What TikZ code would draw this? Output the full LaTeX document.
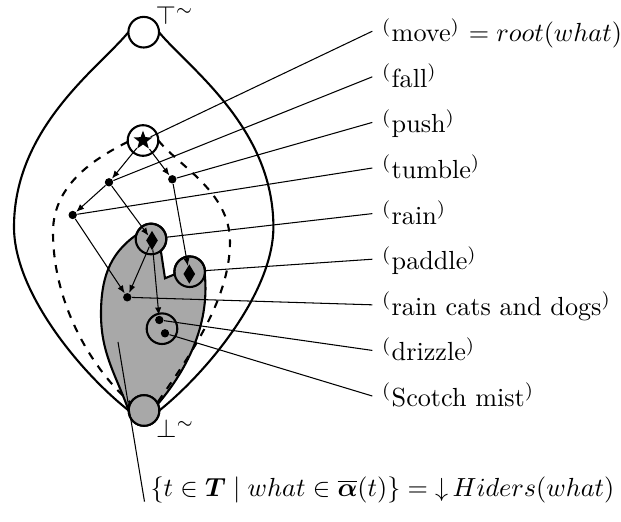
\documentclass[tikz,border=0pt]{standalone}
\usepackage{amssymb}
\usepackage{amsmath}
\usepackage{tikz}
\usetikzlibrary{arrows.meta,shapes.geometric,backgrounds}

\definecolor{blobgray}{gray}{0.66}
\newcommand{\pq}[1]{\textsuperscript{(}#1\textsuperscript{)}}

\tikzset{
  ring/.style={circle, draw, thick, minimum size=11.7pt, inner sep=0pt, outer sep=0pt},
  dot/.style={circle, fill, minimum size=3.2pt, inner sep=0pt},
  gem/.style={diamond, fill, minimum width=4.6pt, minimum height=7.5pt, inner sep=0pt},
  tag/.style={anchor=base west, text height=9.5pt, text depth=1.5pt, inner xsep=3.6pt},
  link/.style={-{Latex[length=3pt,width=2.4pt]}},
}

\begin{document}
\begin{tikzpicture}[x=0.382pt,y=0.382pt]
  \useasboundingbox (0,0) rectangle (621,522);

  \node[ring] (top) at (143.7,489.8) {};
  \node[ring, fill=blobgray] (bot) at (144,111.5) {};
  \node[ring] (moveC) at (143,381.5) {};
  \node[ring] (rainC) at (151,283) {};
  \node[ring] (paddleC) at (189.7,250.3) {};
  \node[ring] (drizzleC) at (162,193.3) {};

  \node[star, star points=5, star point ratio=2.4, fill, minimum size=7.5pt, inner sep=0pt] (move) at (143,381.5) {};
  \node[dot] (fall) at (109,339.7) {};
  \node[dot] (push) at (172.3,342.7) {};
  \node[dot] (tumble) at (72.7,307) {};
  \node[gem] (rain) at (152,281.5) {};
  \node[gem] (paddle) at (189.3,248) {};
  \node[dot] (cats) at (127.3,224.7) {};
  \node[dot] (drizzle) at (159.3,202) {};
  \node[dot] (mist) at (165,188.7) {};

  \node[anchor=base west, inner sep=0pt] (toplab) at (155,497) {$\top^{\sim}$};
  \node[anchor=base west, inner sep=0pt] (botlab) at (155.7,84) {$\bot^{\sim}$};

  % the hiders of what
  \begin{scope}[on background layer]
    \draw[thick, fill=blobgray] (bot.25) .. controls (185,150) and (210,195) .. (paddleC.-10)
      arc[start angle=-10, end angle=190, radius=5.85pt] -- (165,243.7) -- (rainC.-50)
      arc[start angle=-50, end angle=165, radius=5.85pt]
      to[out=215,in=90] (101,208) to[out=270,in=110] (bot.west) -- cycle;
  \end{scope}
  \node[ring, fill=blobgray] at (bot) {};

  \draw[thick] (top.west) .. controls (100,455) and (14,395) .. (14,295)
    .. controls (14,230) and (80,150) .. (bot.west);
  \draw[thick] (top.east) .. controls (187.4,455) and (273.4,395) .. (273.4,295)
    .. controls (273.4,230) and (207.4,150) .. (bot.east);

  \draw[thick, dashed] (moveC.185) .. controls (100,366) and (53,340) .. (53,290)
    .. controls (53,215) and (95,150) .. (bot.150);
  \draw[thick, dashed] (moveC.0) .. controls (180,355) and (230,330) .. (230,280)
    .. controls (230,220) and (185,160) .. (bot.30);

  \draw[link] (move) -- (fall);
  \draw[link] (move) -- (push);
  \draw[link] (fall) -- (tumble);
  \draw[link] (fall) -- (rain);
  \draw[link] (tumble) -- (cats);
  \draw[link] (rain) -- (cats);
  \draw[link] (rain) -- (drizzle);
  \draw[link] (push) -- (paddle);

  \foreach \tgt/\txt [count=\k from 0] in {
    move/{\pq{move} $= root(what)$},
    fall/{\pq{fall}}, push/{\pq{push}}, tumble/{\pq{tumble}},
    rainC/{\pq{rain}}, paddleC/{\pq{paddle}}, cats/{\pq{rain cats and dogs}},
    drizzle/{\pq{drizzle}}, mist/{\pq{Scotch mist}}} {
    \node[tag] (l\k) at (372.3,480.3-45.6*\k) {\txt};
    \draw (l\k.west) -- (\tgt);
  }

  \coordinate (spot) at (118,180);
  \node[anchor=base west, inner xsep=2.1pt] (hiders) at (144.5,25.3)
    {$\{t\in\boldsymbol{T}\mid what\in\overline{\boldsymbol{\alpha}}(t)\}={\downarrow}\,Hiders(what)$};
  \draw (spot) -- ([yshift=-1.9pt]hiders.base west);
\end{tikzpicture}
\end{document}
